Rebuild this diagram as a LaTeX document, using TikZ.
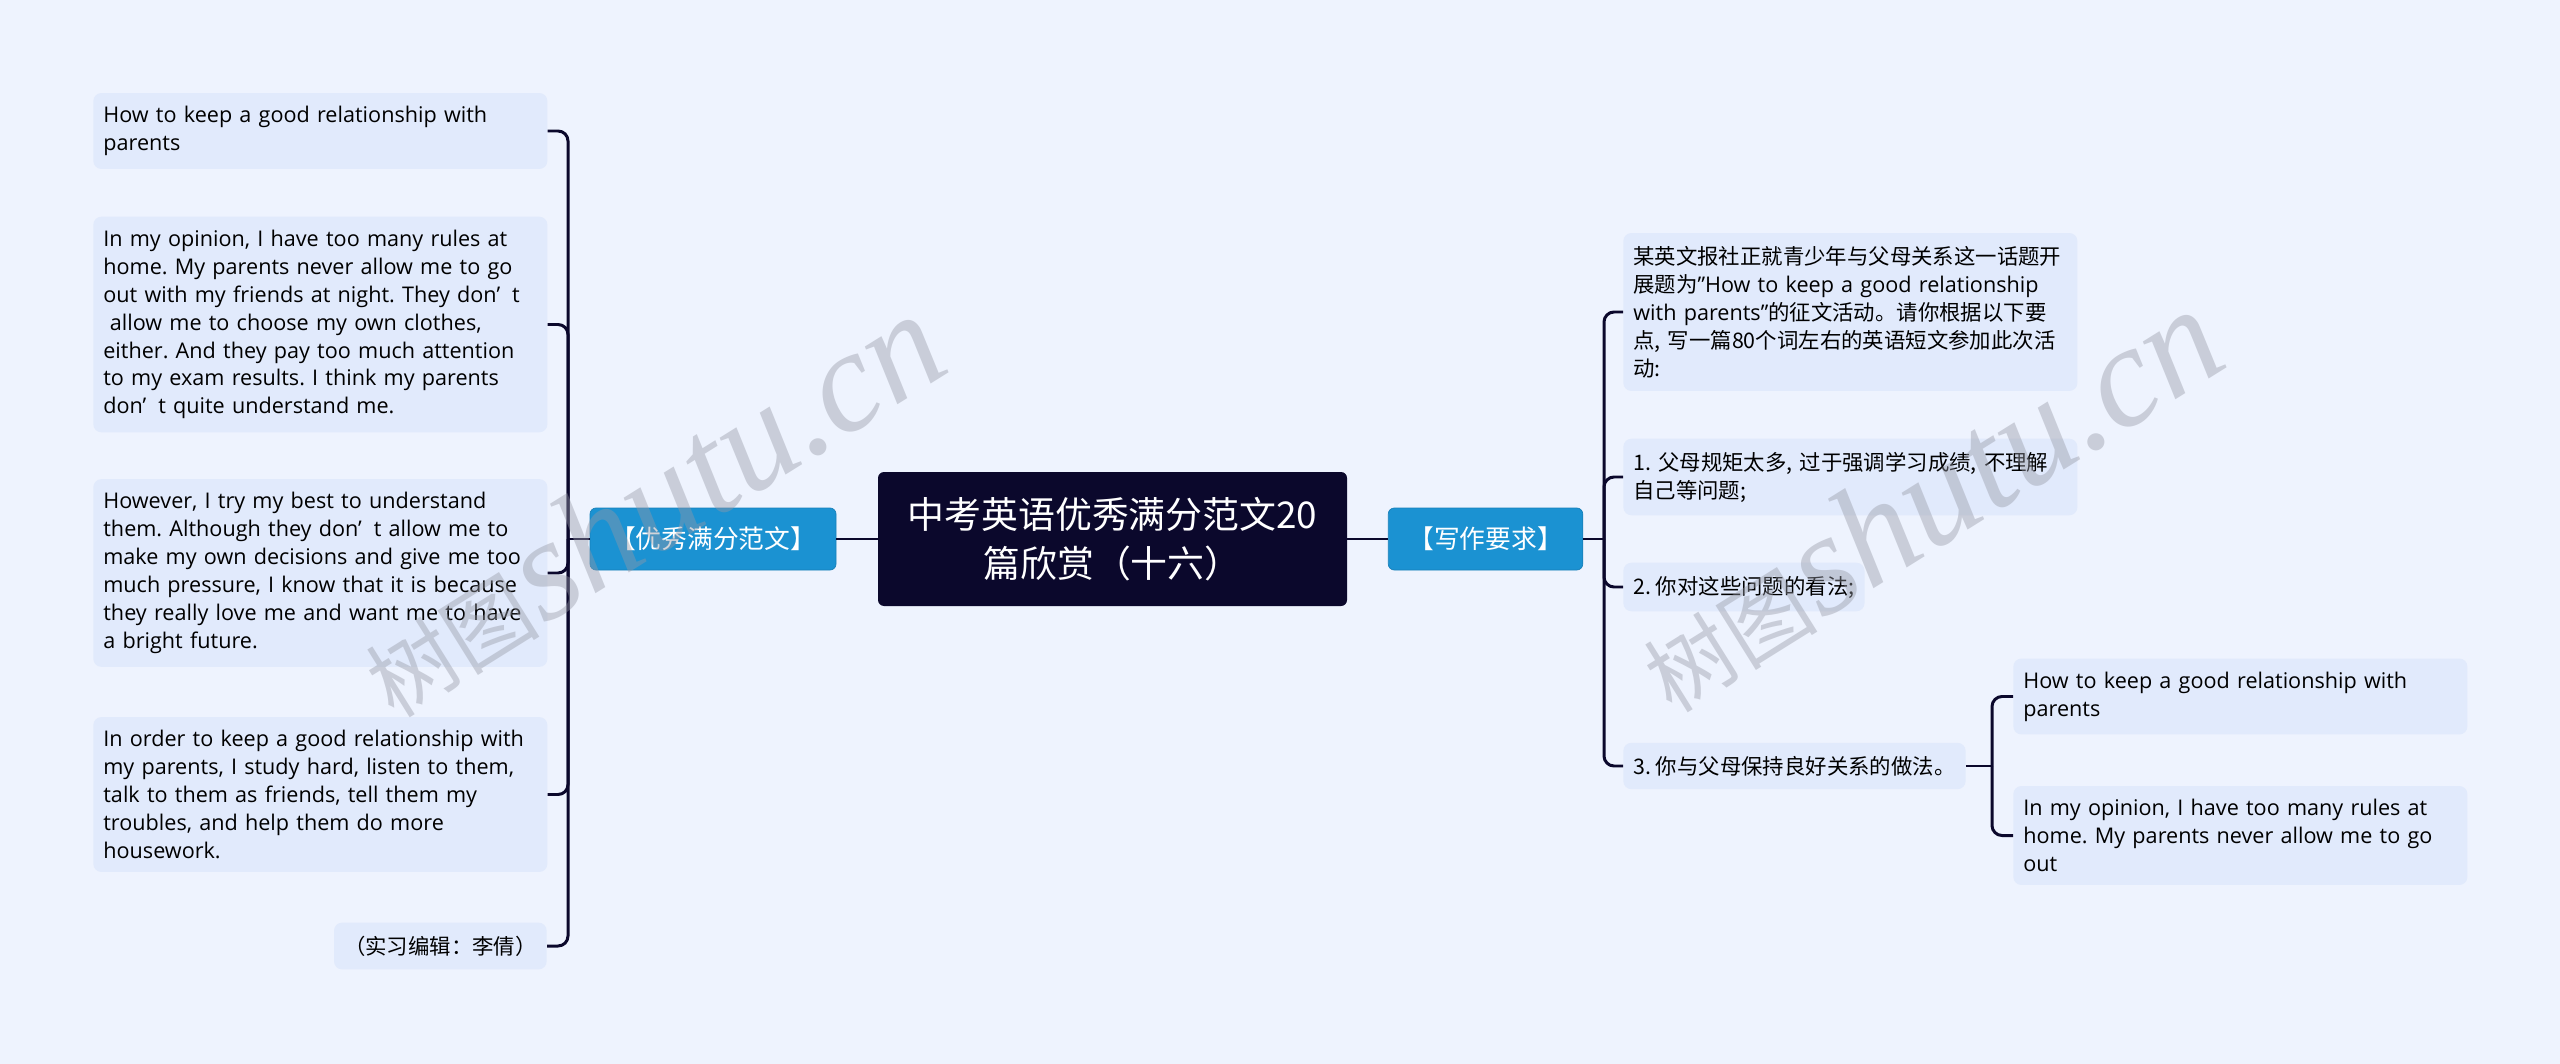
\documentclass[tikz,border=0pt]{standalone}
\usepackage{fontspec}
\setmainfont{Open Sans}
\newfontfamily\cjk{Noto Sans CJK SC}[Scale=0.99]
\newfontfamily\wmserif{Liberation Serif}
\usepackage{xcolor}
\usepackage{tikz}
\usetikzlibrary{positioning,calc}
\frenchspacing

\definecolor{bgblue}{RGB}{238,243,254}
\definecolor{leafblue}{RGB}{225,234,252}
\definecolor{branchblue}{RGB}{27,146,210}
\definecolor{rootnavy}{RGB}{11,8,44}
\definecolor{wmgray}{RGB}{150,153,166}

\newcommand{\leaffont}{\fontsize{12.3}{15.9}\selectfont}
\newcommand{\dont}{don’\hspace{0.55em}t}
\newcommand{\qt}{\symbol{34}}

\begin{document}
\begin{tikzpicture}[
    leaf/.style={fill=leafblue, rounded corners=0.16cm, align=left, inner xsep=0.2cm, inner ysep=7.5pt, font=\leaffont},
    wideleaf/.style={leaf, text width=8.68cm},
    branch/.style={fill=branchblue, draw=branchblue!88!black, rounded corners=0.12cm, text=white, inner xsep=0.4cm, minimum height=1.24cm, font=\cjk\fontsize{14.8}{18}\selectfont},
    root/.style={fill=rootnavy, rounded corners=0.12cm, text=white, minimum width=9.38cm, minimum height=2.68cm, align=center, font=\cjk\fontsize{21.2}{27.8}\selectfont},
    link/.style={draw=rootnavy, line width=1.7pt, rounded corners=0.2cm},
    watermark/.style={rotate=32, text=wmgray, opacity=0.42}
]
    \fill[bgblue] (0,0) rectangle (51.2,-21.28);
    \useasboundingbox (0,0) rectangle (51.2,-21.28);

    % centre and the two branches
    \node[root] (root) at (22.25,-10.78) {中考英语优秀满分范文20\\篇欣赏（十六）};
    \node[branch] (essay) at (14.26,-10.78) {【优秀满分范文】};
    \node[branch] (task) at (29.71,-10.78) {【写作要求】};

    % left side: the model essay
    \node[wideleaf, anchor=west] (l1) at (1.86,-2.62)
        {How to keep a good relationship with\\parents};
    \node[wideleaf, anchor=west] (l2) at (1.86,-6.49)
        {In my opinion, I have too many rules at\\home. My parents never allow me to go\\out with my friends at night. They \dont\\\hspace*{0.3em}allow me to choose my own clothes,\\either. And they pay too much attention\\to my exam results. I think my parents\\\dont{} quite understand me.};
    \node[wideleaf, anchor=west] (l3) at (1.86,-11.46)
        {However, I try my best to understand\\them. Although they \dont{} allow me to\\make my own decisions and give me too\\much pressure, I know that it is because\\they really love me and want me to have\\a bright future.};
    \node[wideleaf, anchor=west] (l4) at (1.86,-15.89)
        {In order to keep a good relationship with\\my parents, I study hard, listen to them,\\talk to them as friends, tell them my\\troubles, and help them do more\\housework.};
    \node[leaf, anchor=east, font=\cjk\leaffont] (l5) at (10.94,-18.92) {（实习编辑：李倩）};

    % right side: the writing task
    \node[wideleaf, anchor=west] (r1) at (32.46,-6.24)
        {{\cjk 某英文报社正就青少年与父母关系这一话题开}\\{\cjk 展题为}\qt How to keep a good relationship\\with parents\qt{\cjk 的征文活动。请你根据以下要}\\{\cjk 点, 写一篇80个词左右的英语短文参加此次活}\\{\cjk 动:}};
    \node[wideleaf, anchor=west, font=\cjk\leaffont] (r2) at (32.46,-9.54)
        {1. 父母规矩太多, 过于强调学习成绩, 不理解\\自己等问题;};
    \node[leaf, anchor=west, font=\cjk\leaffont] (r3) at (32.46,-11.74) {2. 你对这些问题的看法;};
    \node[leaf, anchor=west, font=\cjk\leaffont] (r4) at (32.46,-15.32) {3. 你与父母保持良好关系的做法。};
    \node[wideleaf, anchor=west] (c1) at (40.26,-13.93)
        {How to keep a good relationship with\\parents};
    \node[wideleaf, anchor=west] (c2) at (40.26,-16.71)
        {In my opinion, I have too many rules at\\home. My parents never allow me to go\\out};

    % connectors
    \coordinate (lj) at (11.36,-10.78);
    \coordinate (rj) at (32.08,-10.78);
    \coordinate (r4j) at (39.84,-15.32);
    \draw[link] (root.west) -- (essay.east);
    \draw[link] (root.east) -- (task.west);
    \draw[link] (essay.west) -- (lj);
    \draw[link] (task.east) -- (rj);
    \draw[link] (r4.east) -- (r4j);
    \foreach \n in {l1,l2,l3,l4,l5}
        \draw[link] (lj) |- (\n.east);
    \foreach \n in {r1,r2,r3,r4}
        \draw[link] (rj) |- (\n.west);
    \foreach \n in {c1,c2}
        \draw[link] (r4j) |- (\n.west);

    % site watermark
    \node[watermark] (wmleft) at (13.0,-10.1)
        {{\cjk\fontsize{50}{50}\selectfont 树图}\,{\wmserif\itshape\fontsize{82}{82}\selectfont shutu.cn}};
    \node[watermark] (wmright) at (38.56,-10.0)
        {{\cjk\fontsize{50}{50}\selectfont 树图}\,{\wmserif\itshape\fontsize{82}{82}\selectfont shutu.cn}};
\end{tikzpicture}
\end{document}
